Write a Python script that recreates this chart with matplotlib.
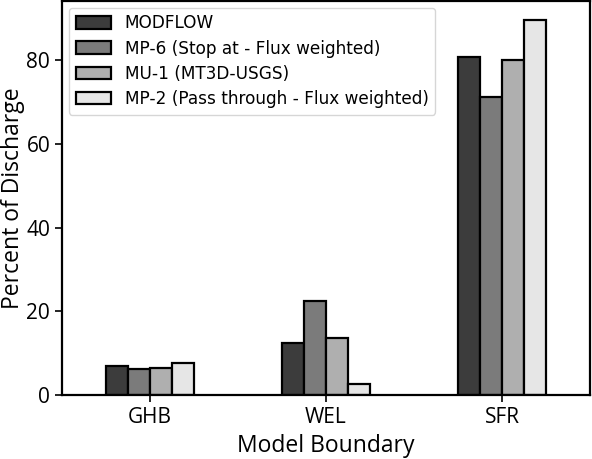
import matplotlib
matplotlib.use("Agg")
import matplotlib.pyplot as plt
import numpy as np

# data
boundaries = ['GHB', 'WEL', 'SFR']
modflow = [7.0, 12.5, 80.7]
mp6 = [6.2, 22.6, 71.2]
mu1 = [6.4, 13.7, 80.0]
mp2 = [7.7, 2.7, 89.7]

labels = ['MODFLOW', 'MP-6 (Stop at - Flux weighted)',
          'MU-1 (MT3D-USGS)', 'MP-2 (Pass through - Flux weighted)']
colors = ['#3c3c3c', '#7b7b7b', '#afafaf', '#e6e6e6']

plt.rcParams['font.family'] = ['Open Sans', 'DejaVu Sans']

fig = plt.figure(figsize=(5.92, 4.59), dpi=100)
ax = fig.add_axes([0.1047, 0.139, 0.892, 0.859])

x = np.arange(len(boundaries))
w = 0.125
series = [modflow, mp6, mu1, mp2]
for i, vals in enumerate(series):
    ax.bar(x + (i - 1.5) * w, vals, width=w, color=colors[i],
           edgecolor='black', linewidth=1.6, label=labels[i])

ax.set_xlim(-0.5, 2.5)
ax.set_xticks(x)
ax.set_xticklabels(boundaries)
ax.set_yticks([0, 20, 40, 60, 80])
ax.tick_params(labelsize=15, width=1.2, length=5)
for s in ax.spines.values():
    s.set_linewidth(1.6)
ax.set_xlabel('Model Boundary', fontsize=16.5)
ax.set_ylabel('Percent of Discharge', fontsize=16.5, labelpad=1)

ax.legend(loc='upper left', prop={'family': 'DejaVu Sans', 'size': 12.2},
          handlelength=2.1, handleheight=0.75, borderpad=0.4,
          labelspacing=0.42, handletextpad=0.8, borderaxespad=0.4)

fig.savefig('out.png', dpi=100)
